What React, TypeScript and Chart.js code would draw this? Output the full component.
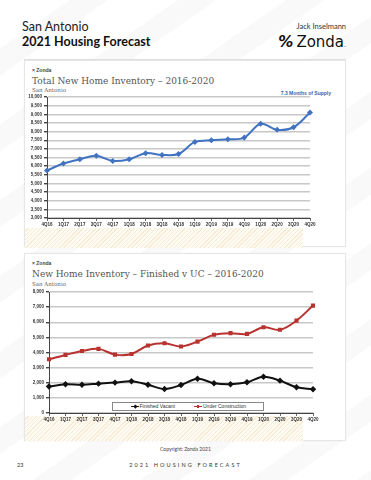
import React, { useEffect, useRef } from "react";
import { Chart, registerables } from "chart.js";

Chart.register(...registerables);

const quarters = ["4Q16", "1Q17", "2Q17", "3Q17", "4Q17", "1Q18", "2Q18", "3Q18", "4Q18", "1Q19", "2Q19", "3Q19", "4Q19", "1Q20", "2Q20", "3Q20", "4Q20"];
const totalInventory = [5750, 6150, 6400, 6600, 6300, 6400, 6750, 6650, 6700, 7400, 7500, 7550, 7650, 8450, 8100, 8250, 9100];
const finishedVacant = [1750, 1900, 1870, 1940, 2010, 2100, 1870, 1590, 1850, 2270, 1970, 1900, 2030, 2400, 2140, 1700, 1570];
const underConstruction = [3550, 3840, 4100, 4240, 3860, 3900, 4460, 4610, 4400, 4720, 5170, 5280, 5230, 5670, 5500, 6110, 7100];
const inventoryTicks = [3000, 3500, 4000, 4500, 5000, 5500, 6000, 6500, 7000, 7500, 8000, 8500, 9000, 9500, 10000];
const splitTicks = [0, 1000, 2000, 3000, 4000, 5000, 6000, 7000, 8000];
const seriesNames = ["Finished Vacant", "Under Construction"];

const tickFont: any = { family: "Liberation Sans", size: 4.5, weight: "bold" };
const fmt = (v: any) => Number(v).toLocaleString("en-US");

function makeScales(ticks: number[], yWidth: number, xHeight: number) {
  return {
    x: {
      type: "category",
      offset: false,
      grid: { drawOnChartArea: false, tickLength: 3, tickColor: "#444", lineWidth: 0.8 },
      border: { color: "#444", width: 1 },
      ticks: { font: tickFont, color: "#333", maxRotation: 0, autoSkip: false, padding: 1 },
      afterFit: (s: any) => { s.height = xHeight; },
    },
    y: {
      min: ticks[0],
      max: ticks[ticks.length - 1],
      afterBuildTicks: (s: any) => { s.ticks = ticks.map((v) => ({ value: v })); },
      ticks: { font: tickFont, color: "#333", padding: 2, callback: (v: any) => fmt(v) },
      grid: { color: "#c8c8c8", lineWidth: 1.4, tickLength: 3, tickColor: "#444" },
      border: { color: "#444", width: 1 },
      afterFit: (s: any) => { s.width = yWidth; },
    },
  };
}

function useChart(ref: React.RefObject<HTMLCanvasElement>, build: () => any) {
  useEffect(() => {
    if (!ref.current) return;
    const c = new Chart(ref.current, build());
    return () => c.destroy();
  }, []);
}

const abs = (l: number, t: number, extra: any = {}): React.CSSProperties => ({ position: "absolute", left: l, top: t, ...extra });

const hatch = "repeating-linear-gradient(135deg, #fefbf4 0px, #fefbf4 2px, #f7ecd3 2px, #f7ecd3 3px)";

export default function App() {
  const c1 = useRef<HTMLCanvasElement>(null);
  const c2 = useRef<HTMLCanvasElement>(null);

  useChart(c1, () => ({
    type: "line",
    data: {
      labels: quarters,
      datasets: [{
        data: totalInventory,
        borderColor: "#4173c1",
        backgroundColor: "#4173c1",
        borderWidth: 2,
        tension: 0.35,
        pointStyle: "rectRot",
        pointRadius: 1.6,
      }],
    },
    options: {
      animation: false,
      responsive: false,
      maintainAspectRatio: false,
      layout: { padding: { left: 0, top: 7, right: 36, bottom: 0 } },
      plugins: { legend: { display: false }, tooltip: { enabled: false } },
      scales: makeScales(inventoryTicks, 23, 12),
    },
  }));

  useChart(c2, () => ({
    type: "line",
    data: {
      labels: quarters,
      datasets: [
        {
          label: seriesNames[0],
          data: finishedVacant,
          borderColor: "#111",
          backgroundColor: "#111",
          borderWidth: 2,
          tension: 0.35,
          pointStyle: "rectRot",
          pointRadius: 1.8,
        },
        {
          label: seriesNames[1],
          data: underConstruction,
          borderColor: "#b83330",
          backgroundColor: "#b83330",
          borderWidth: 2,
          tension: 0.35,
          pointStyle: "rect",
          pointRadius: 1.5,
        },
      ],
    },
    options: {
      animation: false,
      responsive: false,
      maintainAspectRatio: false,
      layout: { padding: { left: 0, top: 7, right: 33, bottom: 0 } },
      plugins: { legend: { display: false }, tooltip: { enabled: false } },
      scales: makeScales(splitTicks, 25, 14),
    },
  }));

  const panel: React.CSSProperties = {
    position: "absolute", left: 24, width: 322, background: "#fff",
    border: "1px solid #e6e6e6", boxSizing: "border-box", boxShadow: "0 0 2px rgba(0,0,0,0.05)",
  };
  const zLabel: React.CSSProperties = { fontFamily: "Liberation Sans", fontSize: 5, fontWeight: "bold", color: "#444", lineHeight: "5px", whiteSpace: "nowrap" };
  const title: React.CSSProperties = { fontFamily: "DejaVu Serif", fontSize: 9, color: "#555", lineHeight: "9px", whiteSpace: "nowrap" };
  const sub: React.CSSProperties = { fontFamily: "DejaVu Serif", fontSize: 5.5, color: "#666", lineHeight: "6px", whiteSpace: "nowrap" };
  const legText: React.CSSProperties = { fontFamily: "Liberation Sans", fontSize: 5, color: "#333", lineHeight: "5px", whiteSpace: "nowrap" };

  return (
    <div style={{
      position: "fixed", left: 0, top: 0, width: 371, height: 480, overflow: "hidden",
      background: "repeating-linear-gradient(145deg, #ffffff 0px, #ffffff 40px, #f9f9f9 40px, #f9f9f9 62px)",
      fontFamily: "Lato",
    }}>
      <div style={abs(22, 21, { fontSize: 12.5, lineHeight: "12.5px", color: "#222" })}>San Antonio</div>
      <div style={abs(22, 36, { fontSize: 12.5, lineHeight: "12.5px", fontWeight: "bold", color: "#111" })}>2021 Housing Forecast</div>
      <div style={{ position: "absolute", right: 25, top: 23, fontSize: 7.5, lineHeight: "8px", color: "#333" }}>Jack Inselmann</div>
      <div style={{ position: "absolute", right: 25, top: 35, fontSize: 15, lineHeight: "15px", color: "#111", fontFamily: "DejaVu Sans", whiteSpace: "nowrap" }}>
        <span style={{ fontWeight: "bold", fontStyle: "italic", marginRight: 3 }}>%</span>Zonda<span style={{ fontSize: 6 }}>.</span>
      </div>
      <div style={abs(24, 59, { width: 322, height: 1, background: "#e2e2e2" })} />

      <div style={{ ...panel, top: 60, height: 187 }}>
        <div style={abs(0, 166.5, { width: 278, height: 20, background: hatch })} />
        <div style={abs(7, 6.5, zLabel)}>× Zonda</div>
        <div style={abs(7, 15.5, title)}>Total New Home Inventory – 2016-2020</div>
        <div style={abs(7, 25.5, sub)}>San Antonio</div>
        <div style={{ position: "absolute", right: 14, top: 29.5, fontFamily: "Liberation Sans", fontSize: 5, fontWeight: "bold", color: "#3f62ad", lineHeight: "5px", whiteSpace: "nowrap" }}>7.3 Months of Supply</div>
        <canvas ref={c1} width={322} height={140} style={abs(-1, 29, { width: 322, height: 140 })} />
      </div>

      <div style={{ ...panel, top: 253, height: 188 }}>
        <div style={abs(0, 162, { width: 278, height: 25, background: hatch })} />
        <div style={abs(7, 6.5, zLabel)}>× Zonda</div>
        <div style={abs(7, 15.5, title)}>New Home Inventory – Finished v UC – 2016-2020</div>
        <div style={abs(7, 26.5, sub)}>San Antonio</div>
        <canvas ref={c2} width={322} height={142} style={abs(-1, 31, { width: 322, height: 142 })} />
        <div style={abs(87, 147.5, { width: 152, height: 9, background: "#fff", border: "0.8px solid #888", boxSizing: "border-box" })}>
          <div style={abs(18, 3.5, { width: 8, height: 1.4, background: "#111" })} />
          <div style={abs(20.5, 2.8, { width: 2.8, height: 2.8, background: "#111", transform: "rotate(45deg)" })} />
          <div style={abs(26.5, 1.5, legText)}>{seriesNames[0]}</div>
          <div style={abs(81, 3.5, { width: 8, height: 1.4, background: "#b83330" })} />
          <div style={abs(83.6, 2.8, { width: 2.8, height: 2.8, background: "#b83330" })} />
          <div style={abs(90, 1.5, legText)}>{seriesNames[1]}</div>
        </div>
      </div>

      <div style={abs(0, 446.5, { width: 371, textAlign: "center", fontSize: 5, lineHeight: "5px", color: "#444" })}>Copyright: Zonda 2021</div>
      <div style={abs(17, 462.5, { fontSize: 5.5, lineHeight: "5px", color: "#333" })}>23</div>
      <div style={abs(0, 462.5, { width: 371, textAlign: "center", fontSize: 5.5, lineHeight: "5px", color: "#333", letterSpacing: 2.1 })}>2021 HOUSING FORECAST</div>
    </div>
  );
}
